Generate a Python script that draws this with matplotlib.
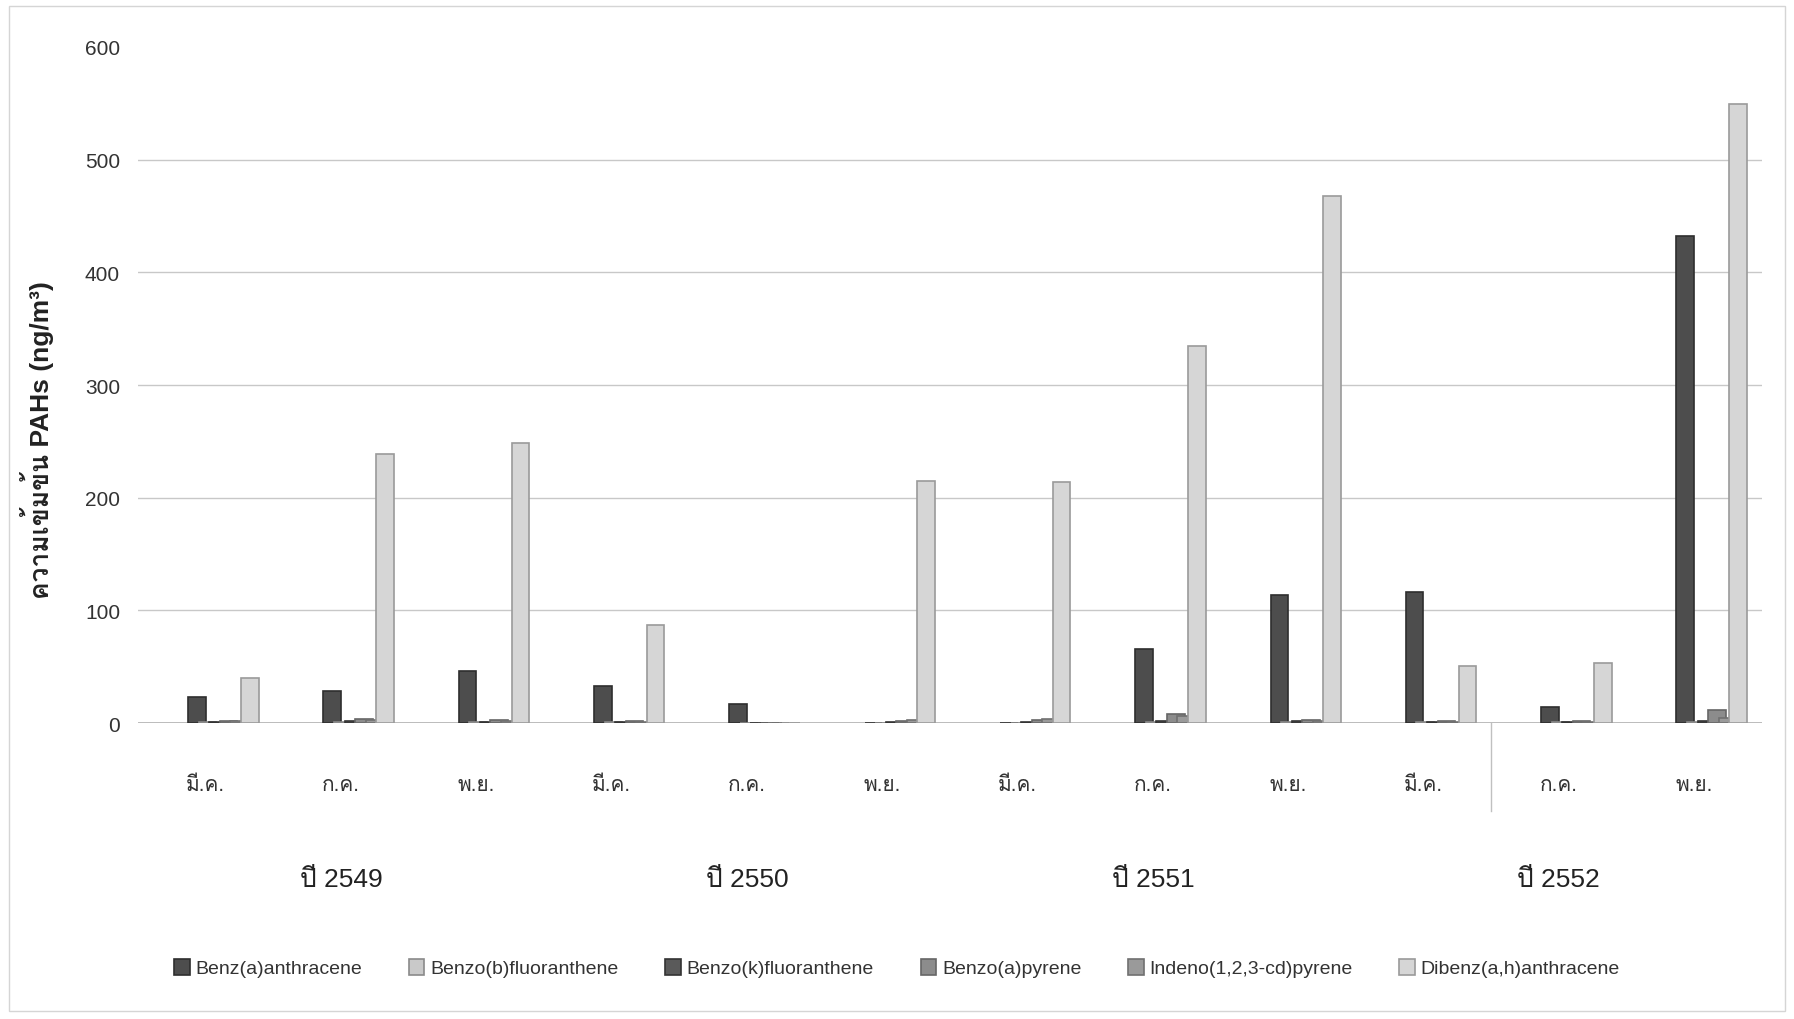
import numpy as np
import matplotlib
matplotlib.use("Agg")
import matplotlib.pyplot as plt
from matplotlib import font_manager
from matplotlib.ft2font import FT2Font
from matplotlib.patches import Rectangle

# months (x categories), years (second level) and the six PAH series
months = ["มี.ค.", "ก.ค.", "พ.ย.", "มี.ค.", "ก.ค.", "พ.ย.",
          "มี.ค.", "ก.ค.", "พ.ย.", "มี.ค.", "ก.ค.", "พ.ย."]
years = ["ปี 2549", "ปี 2550", "ปี 2551", "ปี 2552"]

series_names = ["Benz(a)anthracene", "Benzo(b)fluoranthene", "Benzo(k)fluoranthene",
                "Benzo(a)pyrene", "Indeno(1,2,3-cd)pyrene", "Dibenz(a,h)anthracene"]

benz_a_anthracene = [23, 29, 46, 33, 17, 0, 0, 66, 114, 116, 14, 432]
benzo_b_fluoranthene = [1, 1, 1, 1, 0, 0, 0, 1, 1, 1, 1, 1]
benzo_k_fluoranthene = [1, 2, 1, 1, 0, 1, 1, 2, 2, 1, 1, 2]
benzo_a_pyrene = [2, 4, 3, 2, 0, 2, 3, 8, 3, 2, 2, 12]
indeno_pyrene = [2, 3, 2, 1, 0, 3, 4, 6, 2, 1, 1, 5]
dibenz_ah_anthracene = [40, 239, 249, 87, 0, 215, 214, 335, 468, 51, 53, 549]

values = [benz_a_anthracene, benzo_b_fluoranthene, benzo_k_fluoranthene,
          benzo_a_pyrene, indeno_pyrene, dibenz_ah_anthracene]

fills = ["#4d4d4d", "#c9c9c9", "#5a5a5a", "#8c8c8c", "#9a9a9a", "#d6d6d6"]
edges = ["#2e2e2e", "#8a8a8a", "#333333", "#666666", "#707070", "#9a9a9a"]


# find a font that has Thai glyphs, fall back to DejaVu
def find_thai_font():
    for f in font_manager.fontManager.ttflist:
        try:
            if ord("ก") in FT2Font(f.fname).get_charmap():
                return f.name
        except Exception:
            pass
    return "DejaVu Sans"


thai = find_thai_font()
names = {f.name for f in font_manager.fontManager.ttflist}
narrow = "Liberation Sans Narrow" if "Liberation Sans Narrow" in names else "Liberation Sans"
fam = [narrow, thai, "DejaVu Sans"]
plt.rcParams["font.family"] = fam

fig = plt.figure(figsize=(17.94, 10.2), dpi=100)
ax = fig.add_axes([0.077, 0.290, 0.905, 0.663])

x = np.arange(len(months))
w = 0.13          # bar width
step = 0.6 * w    # 40% overlap between neighbouring series
for i in range(len(values)):
    left = x - w + step * i
    ax.bar(left, values[i], width=w, align="edge", color=fills[i],
           edgecolor=edges[i], linewidth=1.2, label=series_names[i], zorder=3 + i)

ax.set_xlim(-0.5, len(months) - 0.5)
ax.set_ylim(0, 600)
ax.set_yticks(np.arange(0, 601, 100))
ax.tick_params(axis="y", length=0, pad=13, labelsize=15, colors="#333333")
ax.set_xticks([])
for s in ax.spines.values():
    s.set_visible(False)
ax.axhline(0, color="#b0b0b0", linewidth=1.2, zorder=2)
for yv in range(100, 600, 100):
    ax.axhline(yv, color="#c8c8c8", linewidth=1.0, zorder=1)

# month labels and year labels under the axis
for i, m in enumerate(months):
    ax.text(x[i], -0.09, m, transform=ax.get_xaxis_transform(), ha="center",
            va="center", fontsize=15, color="#333333")
for j, yr in enumerate(years):
    ax.text(3 * j + 1, -0.23, yr, transform=ax.get_xaxis_transform(), ha="center",
            va="center", fontsize=19, color="#222222")

ax.plot([9.5, 9.5], [0, -0.13], transform=ax.get_xaxis_transform(), color="#c0c0c0",
        linewidth=1, clip_on=False)

ax.set_ylabel("ความเข้มข้น PAHs (ng/m³)", fontsize=19, fontweight="bold",
              color="#222222")
ax.yaxis.set_label_coords(-0.052, 0.42)

fig.legend(loc="center", bbox_to_anchor=(0.5, 0.05), ncol=6, frameon=False,
           fontsize=14, handlelength=0.8, handleheight=0.9, handletextpad=0.3,
           columnspacing=2.4, labelcolor="#333333")

fig.patches.append(Rectangle((0.005, 0.008), 0.99, 0.985, transform=fig.transFigure,
                             fill=False, edgecolor="#d5d5d5", linewidth=1))

fig.savefig("out.png", dpi=100, facecolor="white")
